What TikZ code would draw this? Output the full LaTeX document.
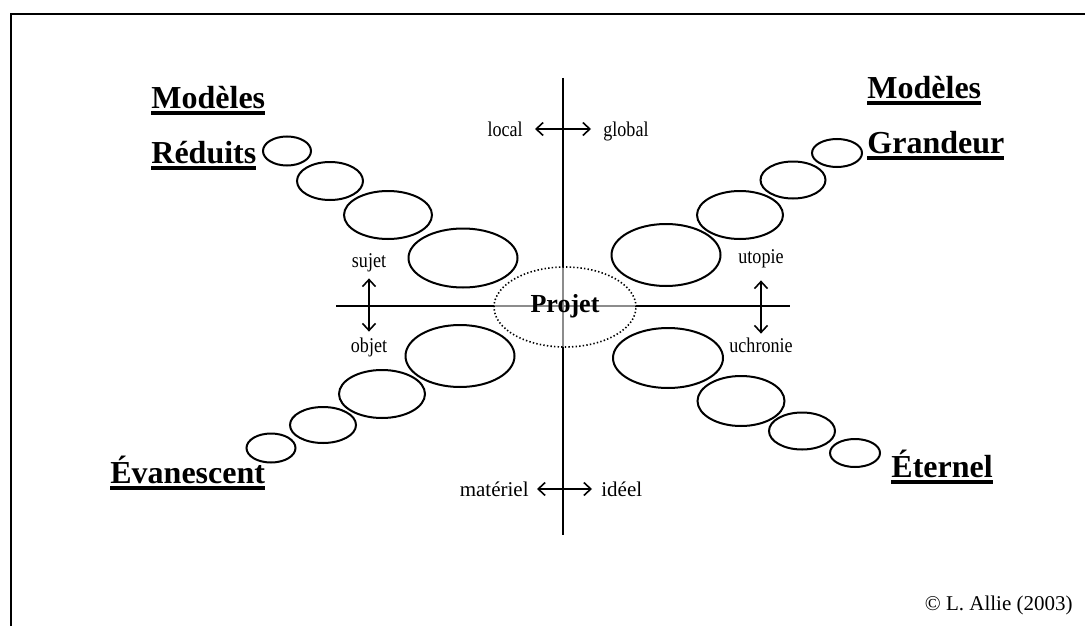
\documentclass[tikz,border=0pt]{standalone}
\usepackage{fontspec}
\setmainfont{Liberation Serif}
\newfontfamily\narrowserif[FakeStretch=0.86]{Liberation Serif}
\newcommand{\headul}[1]{\setbox0\hbox{#1}\rlap{\vrule width\wd0 height -1.5pt depth 3.3pt}\box0}
\usetikzlibrary{arrows.meta,shapes.geometric}
\tikzset{
  title/.style={font=\fontsize{16pt}{18pt}\selectfont\bfseries,anchor=base west,inner sep=0pt},
  pole/.style={font=\narrowserif\fontsize{10.5pt}{12pt}\selectfont,inner sep=0pt,text height=7.5pt,text depth=0.5pt},
  polewide/.style={pole,font=\rmfamily\fontsize{10.5pt}{12pt}\selectfont},
  projet/.style={ellipse,draw,dash pattern=on 0.7pt off 1.1pt,line width=0.8pt,fill=white,fill opacity=0.55,text opacity=1,
    minimum width=71pt,minimum height=40pt,inner sep=0pt,
    font=\fontsize{13pt}{15pt}\selectfont\bfseries,text height=8pt,text depth=3pt},
  bubble/.style={line width=1pt},
  axis/.style={line width=1pt},
  link/.style={<->,line width=0.8pt}
}

\begin{document}
\begin{tikzpicture}[x=0.5pt,y=-0.5pt,>={Straight Barb[length=3.5pt,width=6.5pt]}]
  \useasboundingbox (0,0) rectangle (1085,626);
  \draw[line width=1.3pt] (11,626) -- (11,14) -- (1085,14);

  % axes
  \coordinate (vt) at (563,78);
  \coordinate (vb) at (563,535);
  \coordinate (hl) at (336,306);
  \coordinate (hr) at (790,306);
  \draw[axis] (vt) -- (vb);
  \draw[axis] (hl) -- (hr);

  % bubbles, one chain per quadrant
  \foreach \x/\y/\rx/\ry in {287/151/24/14.5, 330/181/33/19, 388/215/44/24, 463/258/54.5/29.5,
                              460/356/54.5/31, 382/394/43/24, 323/425/33/18, 271/448/24.5/14.5,
                              837/153/25/14, 793/180/32.5/18.5, 740/215/43/24, 666/255/54.5/31,
                              668/358/55/30, 741/401/43.5/25, 802/431/33/18.5, 855/453/25/14}
    \draw[bubble] (\x,\y) ellipse [x radius=\rx, y radius=\ry];

  \node[projet] (pj) at (565,307) {Projet};

  \node[title] (tl1) at (151,108) {\headul{Modèles}};
  \node[title] (tl2) at (151,163) {\headul{Réduits}};
  \node[title] (tr1) at (867,98) {\headul{Modèles}};
  \node[title] (tr2) at (867,153) {\headul{Grandeur}};
  \node[title] (bl) at (110,483) {\headul{Évanescent}};
  \node[title] (br) at (891,477) {\headul{Éternel}};

  \node[pole,anchor=base east] (lc) at (523,136) {local};
  \node[pole,anchor=base west] (gl) at (603,136) {global};
  \node[polewide,anchor=base east] (mt) at (529,496) {matériel};
  \node[polewide,anchor=base west] (id) at (601,496) {idéel};
  \node[pole,anchor=base] (sj) at (369,267) {sujet};
  \node[pole,anchor=base] (ob) at (369,352) {objet};
  \node[pole,anchor=base] (ut) at (761,263) {utopie};
  \node[pole,anchor=base] (uc) at (761,352) {uchronie};

  \draw[link,shorten <=6pt,shorten >=6pt] (lc.east) -- (gl.west);
  \draw[link,shorten <=4pt,shorten >=4.5pt] (mt.east) -- (id.west);
  \draw[link,shorten <=5pt,shorten >=2.5pt] (sj.south) -- (ob.north);
  \draw[link,shorten <=8pt,shorten >=1.5pt] (ut.south) -- (uc.north);

  \node[polewide,anchor=base east] (cr) at (1073,610) {© L. Allie (2003)};
\end{tikzpicture}
\end{document}
